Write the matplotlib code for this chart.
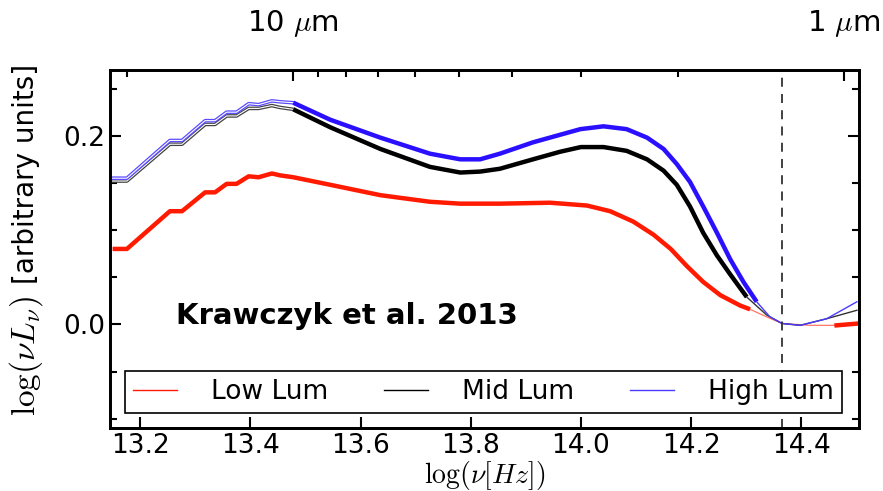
import numpy as np
import matplotlib
matplotlib.use("Agg")
import matplotlib.pyplot as plt
import matplotlib.patheffects as pe
from matplotlib.lines import Line2D

plt.rcParams['mathtext.fontset'] = 'cm'
plt.rcParams['font.family'] = 'DejaVu Sans'

# log(nu) grid
low_x = [13.15, 13.176, 13.254, 13.276, 13.318, 13.336, 13.357, 13.375, 13.397, 13.415,
         13.439, 13.454, 13.478, 13.545, 13.636, 13.726, 13.781, 13.853, 13.944, 14.011,
         14.053, 14.095, 14.132, 14.163, 14.192, 14.222, 14.253, 14.289, 14.307, 14.337,
         14.365, 14.416, 14.464, 14.505]
low_y = [0.080, 0.080, 0.120, 0.120, 0.140, 0.140, 0.149, 0.149, 0.157, 0.156,
         0.160, 0.158, 0.156, 0.148, 0.137, 0.130, 0.128, 0.128, 0.129, 0.126,
         0.120, 0.109, 0.095, 0.080, 0.062, 0.045, 0.031, 0.020, 0.016, 0.008,
         0.001, -0.001, -0.001, 0.001]

mid_x = [13.15, 13.176, 13.254, 13.276, 13.318, 13.336, 13.357, 13.375, 13.397, 13.415,
         13.439, 13.454, 13.478, 13.545, 13.636, 13.726, 13.781, 13.817, 13.853, 13.913,
         13.962, 14.0, 14.041, 14.083, 14.120, 14.150, 14.174, 14.198, 14.222, 14.247,
         14.271, 14.301, 14.337, 14.365, 14.398, 14.446, 14.501]
mid_y = [0.152, 0.152, 0.191, 0.191, 0.212, 0.212, 0.221, 0.221, 0.229, 0.229,
         0.232, 0.230, 0.228, 0.209, 0.186, 0.167, 0.161, 0.162, 0.165, 0.175,
         0.183, 0.188, 0.188, 0.184, 0.175, 0.163, 0.148, 0.125, 0.097, 0.073,
         0.053, 0.029, 0.010, 0.001, -0.001, 0.006, 0.015]

high_x = [13.15, 13.176, 13.254, 13.276, 13.318, 13.336, 13.357, 13.375, 13.397, 13.415,
          13.439, 13.454, 13.478, 13.545, 13.636, 13.726, 13.781, 13.817, 13.853, 13.913,
          13.962, 13.999, 14.041, 14.083, 14.120, 14.150, 14.174, 14.198, 14.222, 14.247,
          14.271, 14.295, 14.319, 14.343, 14.365, 14.398, 14.446, 14.501]
high_y = [0.155, 0.155, 0.195, 0.195, 0.216, 0.216, 0.225, 0.225, 0.234, 0.233,
          0.237, 0.236, 0.235, 0.217, 0.198, 0.181, 0.175, 0.175, 0.181, 0.193,
          0.201, 0.207, 0.210, 0.207, 0.198, 0.186, 0.170, 0.151, 0.125, 0.097,
          0.069, 0.045, 0.024, 0.008, 0.001, -0.001, 0.006, 0.024]

cut_line = 14.365
wave_major = [10, 1]
wave_minor = [20, 9, 8, 7, 6, 5, 4, 3, 2]
c_um = 2.998e14

red, black, blue = '#ff1a00', 'black', '#2a10ff'

fig = plt.figure(figsize=(8.83, 4.91), dpi=100)
ax = fig.add_axes([0.125, 0.128, 0.848, 0.73])

def seg(xs, ys, lo, hi):
    xs = np.array(xs); ys = np.array(ys)
    m = (xs >= lo - 1e-9) & (xs <= hi + 1e-9)
    return xs[m], ys[m]

hollow = lambda col: [pe.Stroke(linewidth=2.6, foreground=col), pe.Normal()]

# low lum
x, y = seg(low_x, low_y, 13.0, 14.307)
ax.plot(x, y, color=red, lw=3.2, solid_capstyle='butt')
x, y = seg(low_x, low_y, 14.307, 14.464)
ax.plot(x, y, color=red, lw=0.9, alpha=0.6)
x, y = seg(low_x, low_y, 14.464, 14.6)
ax.plot(x, y, color=red, lw=3.2)

# mid lum
x, y = seg(mid_x, mid_y, 13.0, 13.478)
ax.plot(x, y, color='white', lw=0.8, path_effects=hollow('#444444'))
x, y = seg(mid_x, mid_y, 13.478, 14.301)
ax.plot(x, y, color=black, lw=3.2, solid_capstyle='butt')
x, y = seg(mid_x, mid_y, 14.301, 14.6)
ax.plot(x, y, color='#333333', lw=1.0)

# high lum
x, y = seg(high_x, high_y, 13.0, 13.478)
ax.plot(x, y, color='white', lw=0.8, path_effects=hollow('#5b4bff'))
x, y = seg(high_x, high_y, 13.478, 14.319)
ax.plot(x, y, color=blue, lw=3.2, solid_capstyle='butt')
x, y = seg(high_x, high_y, 14.319, 14.6)
ax.plot(x, y, color='#4a3aff', lw=1.0)

ax.axvline(cut_line, color='#333333', lw=1.3, ls=(0, (5, 4)))

ax.set_xlim(13.146, 14.505)
ax.set_ylim(-0.11, 0.27)
ax.set_xticks([13.2, 13.4, 13.6, 13.8, 14.0, 14.2, 14.4])
ax.set_yticks([0.0, 0.2])
ax.set_yticks([-0.1, -0.05, 0.05, 0.1, 0.15, 0.25], minor=True)
ax.tick_params(which='both', direction='in', top=False, right=True, width=1.5, labelsize=19)
ax.tick_params(which='major', length=8)
ax.tick_params(which='minor', length=5)
for s in ax.spines.values():
    s.set_linewidth(2)

ax.set_xlabel(r'$\log(\nu[Hz])$', fontsize=20, labelpad=0)

# y label: math part drawn larger than the text part, as in the original
fig.text(26 / 883, 1 - 356 / 491, r'$\log(\nu L_\nu)$', rotation=90,
         ha='center', va='center', fontsize=24)
fig.text(26 / 883, 1 - 174 / 491, '[arbitrary units]', rotation=90,
         ha='center', va='center', fontsize=20)

top = ax.twiny()
top.set_xlim(ax.get_xlim())
top.set_xticks([np.log10(c_um / w) for w in wave_major])
top.set_xticklabels([r'%d $\mu$m' % w for w in wave_major])
top.set_xticks([np.log10(c_um / w) for w in wave_minor], minor=True)
top.tick_params(which='both', direction='in', width=1.5, labelsize=21, pad=22)
top.tick_params(which='major', length=8)
top.tick_params(which='minor', length=5)
for s in top.spines.values():
    s.set_linewidth(2)

ax.text(0.087, 0.29, 'Krawczyk et al. 2013', transform=ax.transAxes,
        fontsize=21, fontweight='bold')

handles = [Line2D([], [], color=red, lw=1),
           Line2D([], [], color=black, lw=1),
           Line2D([], [], color='#4a3aff', lw=1)]
leg = ax.legend(handles, ['Low Lum', 'Mid Lum', 'High Lum'], ncol=3, mode='expand',
                loc='lower left', bbox_to_anchor=(0.02, 0.042, 0.957, 0.12),
                fontsize=19, fancybox=False, edgecolor='black', framealpha=1,
                handlelength=1.65, handletextpad=1.3, borderpad=0.3,
                borderaxespad=0, columnspacing=0.5)
leg.get_frame().set_linewidth(1.2)

fig.savefig('out.png', dpi=100)
